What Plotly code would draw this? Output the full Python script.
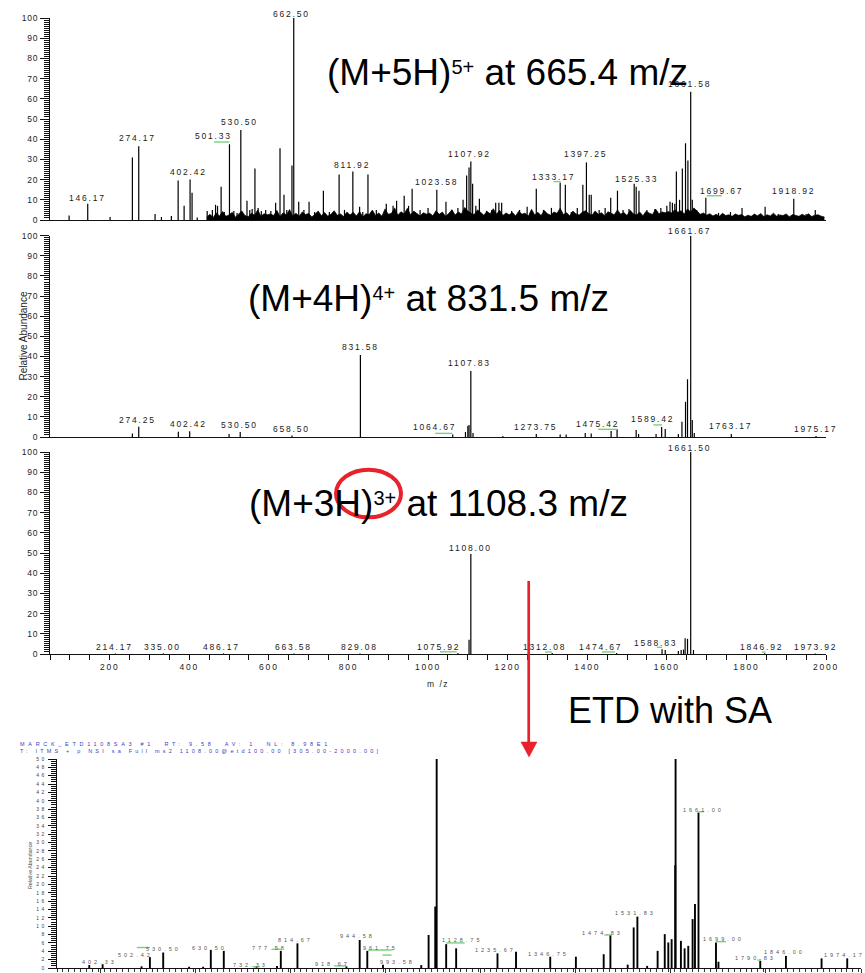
import plotly.graph_objects as go

W, H = 865, 973
FONT = "Liberation Sans, Arial, sans-serif"

# ---------------- DATA ----------------
# Panel 1 : (M+5H)5+ at 665.4 m/z
p1_mz = [98, 144.8, 201, 257, 273, 314, 330, 355, 372, 387, 402, 407, 420, 445, 458, 466, 471, 480, 488,
         501, 512, 520, 529.5, 545, 552, 558, 565, 573, 581, 592, 605, 617, 628, 638, 645, 658, 662.5,
         675, 688, 701, 715, 737, 752, 776.5, 790, 811, 828, 836, 849, 870, 895, 912, 921, 940, 951, 960,
         980, 1000, 1022, 1045, 1060, 1075, 1088, 1097, 1103, 1107.5, 1112, 1120, 1129, 1147, 1160, 1170,
         1178, 1185, 1210, 1230, 1249, 1272, 1290, 1310, 1332, 1345, 1360, 1375, 1389, 1398, 1405, 1410,
         1430, 1445, 1459, 1476, 1490, 1505, 1518, 1523, 1530, 1550, 1570, 1585, 1600, 1608, 1614, 1620,
         1624, 1632, 1639, 1647, 1653, 1660, 1664, 1675, 1698, 1730, 1760, 1789, 1820, 1847, 1880, 1919,
         1950, 1973]
p1_int = [2.2, 8, 1.5, 31, 36.5, 3, 1.5, 2, 19.5, 7, 20, 13.5, 1.2, 4.5, 5, 7.5, 7, 16.5, 4,
          37.5, 4.5, 3.5, 44.5, 9.5, 5, 5.5, 25.5, 6, 4.5, 5, 4.5, 8.5, 35.5, 12.5, 5, 27, 100,
          9, 5, 9, 4, 14.5, 4, 22.5, 5, 24, 6.5, 4, 22.5, 5, 8, 7, 9.5, 12, 7, 15.5,
          5, 6, 15, 9, 5, 6, 10, 22, 26, 29, 18, 7, 10.5, 4.5, 5, 8.5,
          8.5, 8.5, 4.5, 5, 6.5, 15.5, 5, 6, 18.5, 17.5, 4, 6, 17.5, 28.5, 12.5, 12.5,
          5, 6, 11, 14.5, 5, 5.5, 18, 16.5, 14.5, 5, 5.5, 6, 7, 9, 8.5, 8,
          24, 10, 25.5, 38, 29.5, 63.5, 10, 5, 11, 3.5, 4, 6, 3, 6.5, 3, 10.5,
          3, 5]
p1_noise_mz = [444, 452, 460, 468, 476, 484, 492, 500, 508, 516, 524, 532, 540, 548, 556, 564, 572, 580, 588, 596,
               604, 612, 620, 628, 636, 644, 652, 660, 668, 676, 684, 692, 700, 708, 716, 724, 732, 740, 748, 756,
               764, 772, 780, 788, 796,
               804, 812, 820, 828, 836, 844, 852, 860, 868, 876, 884, 892, 900, 908, 916, 924, 932, 940, 948, 956,
               964, 972, 980, 988, 996,
               1004, 1012, 1020, 1028, 1036, 1044, 1052, 1060, 1068, 1076, 1084, 1092, 1100, 1108, 1116, 1124,
               1132, 1140, 1148, 1156, 1164, 1172, 1180, 1188, 1196,
               1204, 1212, 1220, 1228, 1236, 1244, 1252, 1260, 1268, 1276, 1284, 1292, 1300, 1308, 1316, 1324,
               1332, 1340, 1348, 1356, 1364, 1372, 1380, 1388, 1396,
               1404, 1412, 1420, 1428, 1436, 1444, 1452, 1460, 1468, 1476, 1484, 1492, 1500, 1508, 1516, 1524,
               1532, 1540, 1548, 1556, 1564, 1572, 1580, 1588, 1596,
               1604, 1612, 1620, 1628, 1636, 1644, 1652, 1660, 1668, 1676, 1684, 1692, 1700, 1708, 1716, 1724,
               1732, 1740, 1748, 1756, 1764, 1772, 1780, 1788, 1796,
               1804, 1812, 1820, 1828, 1836, 1844, 1852, 1860, 1868, 1876, 1884, 1892, 1900, 1908, 1916, 1924,
               1932, 1940, 1948, 1956, 1964, 1972, 1980, 1988, 1996]
p1_noise_int = [1.5, 2.8, 1.2, 3.5, 2.0, 4.2, 1.8, 2.5, 3.8, 1.4, 2.9, 4.5, 2.2, 1.6, 3.3, 2.4, 5.0, 1.9, 3.1, 2.6,
                3.0, 2.2, 4.8, 1.7, 3.6, 2.5, 5.2, 2.0, 3.4, 1.8, 4.0, 2.7, 3.2, 1.5, 2.9, 4.4, 2.1, 3.7, 1.9, 2.8,
                4.6, 2.3, 3.0, 1.7, 3.9,
                2.5, 3.8, 2.0, 4.2, 1.6, 3.1, 2.7, 4.9, 2.2, 3.5, 1.9, 5.5, 2.8, 3.3, 6.0, 2.4, 4.1, 3.0, 5.8, 2.6,
                4.4, 3.2, 2.0, 3.6, 2.9,
                3.4, 2.1, 4.6, 2.8, 3.9, 1.8, 3.2, 5.1, 2.5, 4.0, 3.0, 6.2, 4.5, 3.3, 2.7, 5.0,
                3.8, 2.4, 4.2, 3.1, 5.6, 2.9, 4.8, 2.2, 3.5,
                2.6, 3.7, 2.0, 4.3, 2.9, 3.4, 1.9, 5.3, 2.5, 3.8, 2.2, 4.7, 3.1, 2.4, 4.0, 3.3,
                5.8, 2.7, 3.6, 2.1, 4.4, 3.0, 2.5, 3.9, 4.6,
                3.2, 2.4, 4.5, 2.8, 3.6, 2.0, 4.1, 3.3, 2.6, 5.0, 2.9, 3.7, 2.2, 4.8, 3.0, 2.5,
                3.9, 2.1, 4.3, 3.4, 2.7, 5.4, 3.1, 4.0, 3.6,
                4.2, 3.5, 5.1, 3.8, 4.6, 3.0, 5.5, 3.9, 6.0, 4.4, 2.8, 3.5, 2.4, 3.1, 2.0, 2.8,
                1.9, 3.3, 2.2, 2.6, 1.8, 3.0, 2.3, 2.7, 1.6,
                2.4, 1.8, 2.9, 2.1, 3.2, 1.7, 2.6, 2.0, 3.4, 1.9, 2.5, 2.2, 3.0, 1.6, 2.7, 2.3,
                1.8, 2.9, 2.0, 3.1, 1.7, 2.4, 2.6, 1.9, 1.5]
p1_lab_text = ["146.17", "274.17", "402.42", "501.33", "530.50", "662.50", "811.92", "1023.58", "1107.92",
               "1333.17", "1397.25", "1525.33", "1661.58", "1699.67", "1918.92"]
p1_lab_mz = [143, 270, 397, 460, 527, 658, 809, 1020, 1104.6, 1314.5, 1395, 1523, 1656, 1737, 1918]
p1_lab_int = [8.8, 38.3, 21.4, 39.3, 46.2, 100, 25.2, 16.8, 30.5, 19.3, 30.5, 18.2, 64.9, 12, 12]
p1_green_from = [462, 1315, 1700]
p1_green_to = [501, 1333, 1738]
p1_green_int = [38.6, 19, 12]

# Panel 2 : (M+4H)4+ at 831.5 m/z
p2_mz = [257, 273, 372.5, 401, 500, 528, 658, 830, 1062, 1094, 1100, 1103, 1107.5, 1113, 1188, 1272, 1332,
         1347, 1395, 1410, 1460, 1475, 1523, 1529, 1573, 1587, 1596, 1629, 1638, 1647, 1652, 1660, 1664,
         1669, 1762, 1975]
p2_int = [1.8, 5.1, 2.6, 2.8, 1.5, 2.5, 0.8, 40.7, 1.2, 2.5, 5.5, 6, 32.8, 2, 0.5, 1.5, 1.2,
          1.3, 2, 1.8, 3, 3.8, 3.5, 1.5, 1.5, 5, 4, 1.5, 7.6, 17.5, 28.7, 100, 8.4,
          2, 1.5, 0.5]
p2_lab_text = ["274.25", "402.42", "530.50", "658.50", "831.58", "1064.67", "1107.83", "1273.75",
               "1475.42", "1589.42", "1661.67", "1763.17", "1975.17"]
p2_lab_mz = [270, 397, 526.4, 656, 829, 1017, 1104.6, 1269, 1425, 1563, 1657.6, 1759, 1973]
p2_lab_int = [6.3, 4.3, 3.5, 1.5, 42.4, 2.6, 34.4, 2.6, 4, 6.5, 100, 3.1, 1.8]
p2_green_from = [1018, 1427, 1566]
p2_green_to = [1061, 1474, 1588]
p2_green_int = [1.8, 3.8, 6]

# Panel 3 : (M+3H)3+ at 1108.3 m/z
p3_mz = [214, 335, 486, 663, 829, 1075, 1103, 1107.5, 1312, 1474, 1588, 1596, 1629, 1636, 1642, 1646,
         1652, 1660, 1667, 1846, 1973]
p3_int = [0.3, 0.3, 0.3, 0.3, 0.3, 0.5, 7, 49.5, 0.5, 0.5, 2.3, 2, 1.5, 2, 2.2, 7.8,
          7.5, 100, 2, 0.4, 0.3]
p3_lab_text = ["214.17", "335.00", "486.17", "663.58", "829.08", "1075.92", "1108.00", "1312.08",
               "1474.67", "1588.83", "1661.50", "1846.92", "1973.92"]
p3_lab_mz = [211, 331.5, 482, 661, 827, 1025, 1106, 1293.5, 1432.6, 1571, 1657.6, 1837, 1973]
p3_lab_int = [1.1, 1.1, 1.1, 1.1, 1.1, 1.1, 50.1, 1.1, 1.1, 3.3, 100, 1.1, 1.1]
p3_green_from = [1030, 1294, 1437, 1575, 1839]
p3_green_to = [1072, 1311, 1470, 1588, 1848]
p3_green_int = [1.1, 1.0, 1.0, 3.3, 1.0]
p3_xticks = [200, 400, 600, 800, 1000, 1200, 1400, 1600, 1800, 2000]

# Panel 4 : ETD with SA (MS2 of 1108.00)
p4_mz = [375.9, 404, 486, 503.5, 531.5, 586, 615.5, 631.7, 659, 727.8, 771, 779, 814, 917, 945, 961,
         994, 1074.6, 1090, 1104, 1107, 1127, 1148, 1235, 1274, 1346, 1400, 1458.5, 1472.6, 1509,
         1521.6, 1529.4, 1550, 1572, 1587, 1594.5, 1601.5, 1609, 1609.8, 1621, 1628.8, 1636.5, 1645.6,
         1650.6, 1658, 1694.8, 1700, 1788, 1842, 1917, 1971]
p4_int = [0.7, 0.9, 0.4, 2.6, 3.7, 0.3, 0.3, 4.3, 4.1, 0.3, 0.5, 4.1, 5.9, 0.4, 6.7, 4.1,
          0.8, 0.7, 7.9, 14.7, 180, 5.7, 4.7, 3.5, 3.9, 2.7, 2.7, 3.3, 7.9, 0.8,
          9.7, 12.3, 0.5, 4.1, 8.1, 6.1, 6.9, 24.6, 90, 6.5, 4.7, 5.3, 11.7,
          15.3, 37.2, 6.1, 1.5, 1.7, 2.9, 2.3, 2.3]
p4_lab_text = ["402.33", "502.42", "530.50", "630.50", "732.33", "777.58", "814.67", "918.67", "944.58",
               "961.75", "993.58", "1128.75", "1235.67", "1346.75", "1474.83", "1531.83", "1661.00",
               "1699.00", "1790.83", "1846.00", "1974.17"]
p4_lab_mz = [398.4, 474, 531.5, 629.6, 715, 755.8, 810, 887, 939.7, 988.7, 1025, 1161, 1231, 1342,
             1456, 1525, 1668, 1711, 1777, 1838, 1964.5]
p4_lab_int = [1.5, 3.1, 4.5, 4.9, 0.7, 4.9, 6.7, 0.9, 7.7, 4.7, 1.5, 6.7, 4.3, 3.3, 8.3, 13.1, 37.7,
              6.9, 2.5, 3.8, 3.1]
p4_green_from = [476, 720, 760, 892, 962, 993, 1127, 1460, 1658, 1695, 1782]
p4_green_to = [503.5, 735, 779, 917, 1014, 1012, 1166, 1474, 1670, 1716, 1790]
p4_green_int = [4.9, 0.3, 4.5, 0.5, 4.3, 3.1, 6.0, 7.9, 37.4, 6.3, 1.9]
p4_xticks = [400, 600, 800, 1000, 1200, 1400, 1600, 1800, 2000]

header_1 = "MARCK_ETD1108SA3 #1  RT: 9.58  AV: 1  NL: 8.98E1"
header_2 = "T: ITMS + p NSI sa Full ms2 1108.00@etd100.00 [305.00-2000.00]"

# ---------------- helpers ----------------
def px_x(v):
    return v / W

def px_y(v):
    return 1 - v / H

def spaced(s, sp):
    return '<span style="letter-spacing:%spx">%s</span>' % (sp, s)

def sup(s):
    return '<span style="font-size:20px;baseline-shift:11px">%s</span>' % s

def sticks(mz, inten):
    xs, ys = [], []
    for m, v in zip(mz, inten):
        xs += [m, m, None]
        ys += [0, v, None]
    return xs, ys

def segs(a, b, v):
    xs, ys = [], []
    for s, e, y in zip(a, b, v):
        xs += [s, e, None]
        ys += [y, y, None]
    return xs, ys

fig = go.Figure()

panels = [
    ("x", "y", p1_mz, p1_int, p1_green_from, p1_green_to, p1_green_int, 1.2),
    ("x2", "y2", p2_mz, p2_int, p2_green_from, p2_green_to, p2_green_int, 1.2),
    ("x3", "y3", p3_mz, p3_int, p3_green_from, p3_green_to, p3_green_int, 1.2),
    ("x4", "y4", p4_mz, p4_int, p4_green_from, p4_green_to, p4_green_int, 1.9),
]

fig.add_trace(go.Scatter(x=p1_noise_mz, y=p1_noise_int, mode="lines", fill="tozeroy",
                         fillcolor="black", line=dict(color="black", width=0.7),
                         xaxis="x", yaxis="y", hoverinfo="skip"))
for xa, ya, mz, it, gf, gt, gi, lw in panels:
    sx, sy = sticks(mz, it)
    fig.add_trace(go.Scatter(x=sx, y=sy, mode="lines", line=dict(color="black", width=lw),
                             xaxis=xa, yaxis=ya, hoverinfo="skip"))
    gx, gy = segs(gf, gt, gi)
    fig.add_trace(go.Scatter(x=gx, y=gy, mode="lines", line=dict(color="#7ccf7c", width=1.4),
                             xaxis=xa, yaxis=ya, hoverinfo="skip"))

# ---------------- axes ----------------
top_dom_x = [px_x(50), px_x(826)]

def xaxis_plain(anchor):
    return dict(domain=top_dom_x, range=[50, 2000], anchor=anchor, showline=True, linecolor="#111",
                linewidth=1, ticks="", showticklabels=False, showgrid=False, zeroline=False,
                fixedrange=True, automargin=False)

def yaxis_top(domain, anchor):
    return dict(domain=domain, range=[0, 100], anchor=anchor,
                tickmode="array", tickvals=list(range(0, 101, 10)),
                ticktext=[spaced(str(v), 0.8) for v in range(0, 101, 10)],
                ticks="outside", ticklen=9, tickwidth=1, tickcolor="#111",
                minor=dict(tickmode="array", tickvals=list(range(0, 101, 1)), ticks="outside",
                           ticklen=5, tickwidth=1, tickcolor="#111"),
                showline=True, linecolor="#111", linewidth=1, showgrid=False, zeroline=False,
                tickfont=dict(family=FONT, size=8.5, color="#222"), fixedrange=True,
                automargin=False)

layout = dict(
    template="none",
    width=W, height=H, autosize=False, margin=dict(l=0, r=0, t=0, b=0, pad=0),
    font=dict(family=FONT, color="black"),
    paper_bgcolor="white", plot_bgcolor="white", showlegend=False,
    xaxis=xaxis_plain("y"),
    yaxis=yaxis_top([px_y(220), px_y(18)], "x"),
    xaxis2=xaxis_plain("y2"),
    yaxis2=yaxis_top([px_y(437), px_y(235.7)], "x2"),
    xaxis3=dict(domain=top_dom_x, range=[50, 2000], anchor="y3", showline=True, linecolor="#111",
                linewidth=1.2, tickmode="array", tickvals=p3_xticks,
                ticktext=[spaced(str(v), 1.8) for v in p3_xticks],
                ticks="outside", ticklen=5, tickwidth=1, tickcolor="#111",
                minor=dict(tickmode="array", tickvals=list(range(50, 2001, 50)), ticks="outside",
                           ticklen=5, tickwidth=1, tickcolor="#111"),
                tickfont=dict(family=FONT, size=8.5, color="#222"), showgrid=False, zeroline=False,
                fixedrange=True, automargin=False),
    yaxis3=yaxis_top([px_y(654), px_y(452)], "x3"),
    xaxis4=dict(domain=[px_x(57), px_x(861)], range=[308, 2000], anchor="y4", showline=True,
                linecolor="#111", linewidth=1.2, tickmode="array", tickvals=p4_xticks,
                ticktext=[spaced(str(v), 2.5) for v in p4_xticks],
                ticks="outside", ticklen=4, tickwidth=1, tickcolor="#333",
                minor=dict(tickmode="array", tickvals=[308 + 12.5 * k for k in range(136)],
                           ticks="outside", ticklen=3, tickwidth=1, tickcolor="#333"),
                tickfont=dict(family=FONT, size=5, color="#444"), showgrid=False, zeroline=False,
                fixedrange=True, automargin=False),
    yaxis4=dict(domain=[px_y(968), px_y(759)], range=[0, 50], anchor="x4",
                tickmode="array", tickvals=list(range(0, 51, 2)),
                ticktext=[spaced(str(v), 2.5) for v in range(0, 51, 2)],
                ticks="outside", ticklen=8, tickwidth=1, tickcolor="#111",
                minor=dict(tickmode="array", tickvals=[k * 0.5 for k in range(101)], ticks="outside",
                           ticklen=5, tickwidth=1, tickcolor="#111"),
                showline=True, linecolor="#111", linewidth=1.2, showgrid=False, zeroline=False,
                tickfont=dict(family=FONT, size=5, color="#444"), fixedrange=True,
                automargin=False),
)
fig.update_layout(**layout)

# ---------------- annotations ----------------
ann = []

def add_labels(texts, mzs, ints, xref, yref, size, sp, color, yanchor="bottom", yshift=-2.5):
    for t, m, v in zip(texts, mzs, ints):
        ann.append(dict(x=m, y=v, xref=xref, yref=yref, text=spaced(t, sp), showarrow=False,
                        xanchor="center", yanchor=yanchor, yshift=yshift,
                        font=dict(family=FONT, size=size, color=color)))

add_labels(p1_lab_text, p1_lab_mz, p1_lab_int, "x", "y", 8.5, 1.8, "#1a1a1a")
add_labels(p2_lab_text, p2_lab_mz, p2_lab_int, "x2", "y2", 8.5, 1.8, "#1a1a1a")
add_labels(p3_lab_text, p3_lab_mz, p3_lab_int, "x3", "y3", 8.5, 1.8, "#1a1a1a")
add_labels(p4_lab_text, p4_lab_mz, p4_lab_int, "x4", "y4", 5.5, 3, "#555", yanchor="middle", yshift=0)

def paper_text(text, x, y, size, color="black", xanchor="center", yanchor="middle", angle=0):
    ann.append(dict(x=px_x(x), y=px_y(y), xref="paper", yref="paper", text=text, showarrow=False,
                    xanchor=xanchor, yanchor=yanchor, textangle=angle,
                    font=dict(family=FONT, size=size, color=color)))

paper_text("(M+5H)" + sup("5+") + " at 665.4 m/z", 507.5, 72, 37)
paper_text("(M+4H)" + sup("4+") + " at 831.5 m/z", 428, 298, 37)
paper_text("(M+3H)" + sup("3+") + " at 1108.3 m/z", 438, 503, 37)
paper_text("ETD with SA", 670, 710, 36)
paper_text("Relative Abundance", 23, 336.5, 10, color="#222", angle=-90)
paper_text(spaced("m /z", 1.5), 438, 683.5, 8.5, color="#222")
paper_text(spaced(header_1, 3.7), 18, 744, 5.5, color="#3b3bbf", xanchor="left")
paper_text(spaced(header_2, 3.2), 18, 751, 5.5, color="#3b3bbf", xanchor="left")
paper_text("Relative Abundance", 30, 865, 5.3, color="#444", angle=-90)

fig.update_layout(annotations=ann)

# ---------------- red ellipse & arrow ----------------
RED = "#e8212a"
shapes = [
    dict(type="circle", xref="paper", yref="paper", x0=px_x(336), x1=px_x(401),
         y0=px_y(517.3), y1=px_y(469.7), line=dict(color=RED, width=4)),
    dict(type="line", xref="paper", yref="paper", x0=px_x(528.7), x1=px_x(528.7),
         y0=px_y(581), y1=px_y(745), line=dict(color=RED, width=2.7)),
    dict(type="path", xref="paper", yref="paper",
         path="M %f,%f L %f,%f L %f,%f Z" % (px_x(521), px_y(742), px_x(537), px_y(742),
                                             px_x(529), px_y(757)),
         fillcolor=RED, line=dict(color=RED, width=0.5)),
]
fig.update_layout(shapes=shapes)

page_fix = ("document.documentElement.style.overflow='hidden';"
            "document.body.style.margin='0';document.body.style.overflow='hidden';")
fig.write_html("out.html", post_script=page_fix)
